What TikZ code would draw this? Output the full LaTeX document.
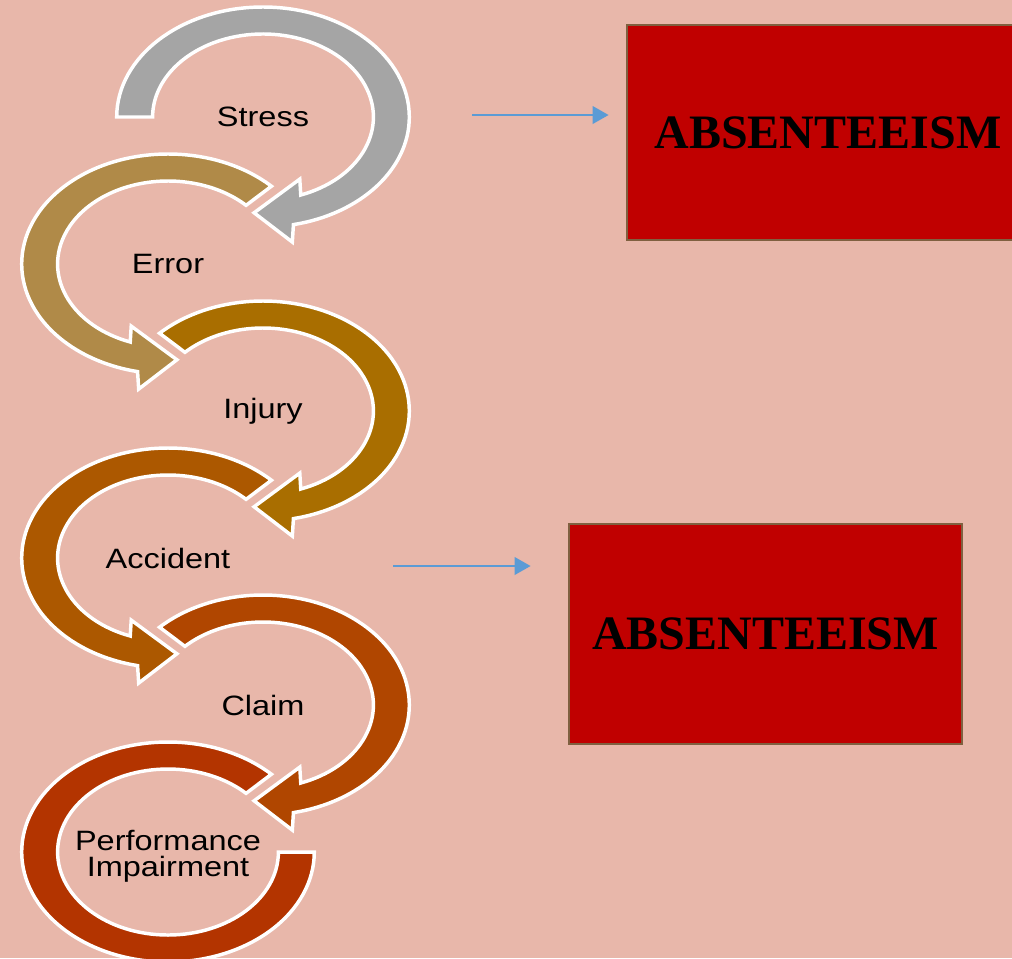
\documentclass[tikz,border=0pt]{standalone}
\usepackage{fontspec}
\setmainfont{Liberation Serif}
\newfontfamily\lblfont[FakeStretch=1.16]{Liberation Sans}
\usetikzlibrary{arrows.meta,positioning}

\definecolor{bgpink}{RGB}{232,183,170}
\definecolor{stressgray}{RGB}{165,165,165}
\definecolor{errortan}{RGB}{176,138,72}
\definecolor{injuryochre}{RGB}{169,110,0}
\definecolor{accidentbrown}{RGB}{172,88,0}
\definecolor{claimrust}{RGB}{176,70,0}
\definecolor{perfred}{RGB}{179,52,0}
\definecolor{absred}{RGB}{192,0,0}
\definecolor{absedge}{RGB}{127,96,64}
\definecolor{linkblue}{RGB}{91,155,213}

\begin{document}
\begin{tikzpicture}[x=0.75pt,y=0.75pt,
    ring/.style={draw=white,line width=2.6pt,line join=miter},
    lbl/.style={font=\lblfont\fontsize{21}{19.5}\selectfont,align=center,inner sep=0pt},
    absbox/.style={fill=absred,draw=absedge,line width=2pt,
        font=\bfseries\fontsize{36}{40}\selectfont},
    link/.style={draw=linkblue,line width=2pt,-{Triangle[length=12pt,width=13pt]}}]
            \useasboundingbox (0,0) rectangle (1012,-958);
            \clip (0,0) rectangle (1012,-958);
            \fill[bgpink] (0,0) rectangle (1012,-958);

            % step labels, one per ring centre
            \node [lbl] (stress) at (263,-117) {Stress};
            \node [lbl] (error) at (168,-264) {Error};
            \node [lbl] (injury) at (263,-411) {Injury};
            \node [lbl] (accident) at (168,-558) {Accident};
            \node [lbl] (claim) at (263,-705) {Claim};
            \node [lbl] (perf) at (168,-856) {Performance\\Impairment};

            % clockwise rings
            \begin{scope}[shift={(stress.center)},xscale=1.33]
                \filldraw [ring,fill=stressgray] (180:110) arc[start angle=180,end angle=-78,radius=110]
                    -- (-80:127) -- (-94:96) -- (-66:68) -- (-70:83)
                    arc[start angle=-70,end angle=180,radius=83] -- cycle;
            \end{scope}
            \begin{scope}[shift={(injury.center)},xscale=1.33]
                \filldraw [ring,fill=injuryochre] (135:110) arc[start angle=135,end angle=-78,radius=110]
                    -- (-80:127) -- (-94:96) -- (-66:68) -- (-70:83)
                    arc[start angle=-70,end angle=135,radius=83] -- cycle;
            \end{scope}
            \begin{scope}[shift={(claim.center)},xscale=1.33]
                \filldraw [ring,fill=claimrust] (135:110) arc[start angle=135,end angle=-78,radius=110]
                    -- (-80:127) -- (-94:96) -- (-66:68) -- (-70:83)
                    arc[start angle=-70,end angle=135,radius=83] -- cycle;
            \end{scope}

            % counter-clockwise rings
            \begin{scope}[shift={(error.center)},xscale=1.33]
                \filldraw [ring,fill=errortan] (45:110) arc[start angle=45,end angle=258,radius=110]
                    -- (260:127) -- (274:96) -- (246:68) -- (250:83)
                    arc[start angle=250,end angle=45,radius=83] -- cycle;
            \end{scope}
            \begin{scope}[shift={(accident.center)},xscale=1.33]
                \filldraw [ring,fill=accidentbrown] (45:110) arc[start angle=45,end angle=258,radius=110]
                    -- (260:127) -- (274:96) -- (246:68) -- (250:83)
                    arc[start angle=250,end angle=45,radius=83] -- cycle;
            \end{scope}
            \begin{scope}[shift={(168,-852)},xscale=1.33]
                \filldraw [ring,fill=perfred] (45:110) arc[start angle=45,end angle=360,radius=110]
                    -- (0:83) arc[start angle=360,end angle=45,radius=83] -- cycle;
            \end{scope}

            % outcome boxes
            \node [absbox,minimum width=301.5pt,minimum height=161.25pt] (abs1) at (828,-132.5) {ABSENTEEISM};
            \node [absbox,minimum width=294.75pt,minimum height=165pt] (abs2) at (765.5,-634) {ABSENTEEISM};

            \coordinate (src1) at (472,-115);
            \coordinate (src2) at (393,-566);
            \draw [link,shorten >=12.75pt] (src1) -- (src1 -| abs1.west);
            \draw [link,shorten >=27.75pt] (src2) -- (src2 -| abs2.west);
        \end{tikzpicture}
\end{document}
